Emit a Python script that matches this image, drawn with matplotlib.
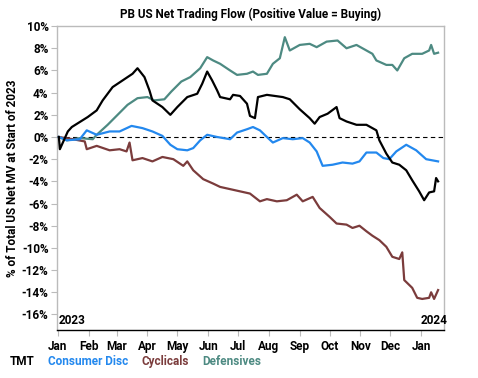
import numpy as np
import pandas as pd
import matplotlib
matplotlib.use("Agg")
import matplotlib.pyplot as plt
import matplotlib.dates as mdates
from matplotlib.ticker import FuncFormatter

plt.rcParams['font.family'] = ['Roboto', 'DejaVu Sans']
plt.rcParams['font.weight'] = 'bold'

# --- data (% of total US net MV at start of 2023) ---
tmt_dates = ["2023-01-02", "2023-01-03", "2023-01-11", "2023-01-15", "2023-01-31", "2023-02-09",
             "2023-02-15", "2023-02-25", "2023-03-07", "2023-03-17", "2023-03-22", "2023-03-29",
             "2023-04-03", "2023-04-06", "2023-04-16", "2023-04-24", "2023-05-01", "2023-05-11",
             "2023-05-21", "2023-05-26", "2023-05-31", "2023-06-05", "2023-06-10", "2023-06-13",
             "2023-06-23", "2023-06-26", "2023-07-03", "2023-07-10", "2023-07-13", "2023-07-18",
             "2023-07-21", "2023-07-30", "2023-08-15", "2023-08-22", "2023-09-01", "2023-09-11",
             "2023-09-16", "2023-09-21", "2023-09-29", "2023-10-08", "2023-10-11", "2023-10-18",
             "2023-10-28", "2023-11-07", "2023-11-13", "2023-11-17", "2023-11-20", "2023-11-27",
             "2023-12-03", "2023-12-10", "2023-12-17", "2023-12-23", "2023-12-30", "2024-01-04",
             "2024-01-09", "2024-01-14", "2024-01-16", "2024-01-18"]
tmt_vals = [0.0, -1.1, 0.5, 0.9, 1.8, 2.4,
            3.3, 4.5, 5.1, 5.7, 6.2, 5.4,
            4.2, 3.3, 2.7, 2.0, 2.7, 3.6,
            3.9, 4.8, 5.9, 5.1, 4.2, 3.6,
            3.4, 3.8, 3.7, 3.0, 1.9, 1.7,
            3.6, 3.8, 3.6, 3.4, 2.5, 1.7,
            1.2, 1.8, 2.1, 2.7, 1.7, 1.4,
            1.1, 1.1, 0.8, 0.6, -0.3, -1.5,
            -2.3, -2.5, -3.0, -3.9, -4.9, -5.7,
            -5.0, -4.9, -3.7, -4.0]

cons_dates = ["2023-01-02", "2023-01-10", "2023-01-23", "2023-01-30", "2023-02-09", "2023-02-22",
              "2023-03-04", "2023-03-16", "2023-03-27", "2023-04-06", "2023-04-16", "2023-04-24",
              "2023-05-01", "2023-05-11", "2023-05-17", "2023-05-24", "2023-05-31", "2023-06-10",
              "2023-06-23", "2023-06-30", "2023-07-10", "2023-07-16", "2023-07-23", "2023-07-30",
              "2023-08-05", "2023-08-15", "2023-08-25", "2023-09-04", "2023-09-11", "2023-09-18",
              "2023-09-24", "2023-10-04", "2023-10-14", "2023-10-24", "2023-10-31", "2023-11-07",
              "2023-11-17", "2023-11-24", "2023-11-30", "2023-12-07", "2023-12-17", "2023-12-27",
              "2024-01-06", "2024-01-12", "2024-01-18"]
cons_vals = [0.0, -0.3, -0.2, 0.6, 0.2, 0.5,
             0.5, 1.0, 0.8, 0.5, 0.1, -0.7,
             -1.1, -1.2, -1.0, -0.3, 0.2, 0.0,
             -0.2, 0.4, 0.7, 0.9, 0.6, 0.0,
             -0.5, -0.1, -0.2, -0.1, -0.5, -1.3,
             -2.6, -2.5, -2.3, -2.4, -2.2, -1.4,
             -1.4, -1.9, -2.0, -1.3, -0.7, -1.2,
             -2.0, -2.1, -2.2]

cyc_dates = ["2023-01-02", "2023-01-16", "2023-01-28", "2023-01-30", "2023-02-09", "2023-02-22",
             "2023-03-04", "2023-03-11", "2023-03-14", "2023-03-17", "2023-03-27", "2023-04-06",
             "2023-04-16", "2023-04-27", "2023-05-07", "2023-05-11", "2023-05-17", "2023-05-27",
             "2023-06-06", "2023-06-13", "2023-06-23", "2023-07-03", "2023-07-13", "2023-07-23",
             "2023-07-30", "2023-08-09", "2023-08-19", "2023-08-29", "2023-09-04", "2023-09-14",
             "2023-09-21", "2023-10-01", "2023-10-08", "2023-10-18", "2023-10-24", "2023-10-31",
             "2023-11-07", "2023-11-13", "2023-11-20", "2023-11-27", "2023-12-03", "2023-12-10",
             "2023-12-13", "2023-12-15", "2023-12-23", "2023-12-28", "2024-01-02", "2024-01-09",
             "2024-01-11", "2024-01-14", "2024-01-18"]
cyc_vals = [0.0, -0.2, -0.4, -1.1, -0.8, -1.2,
            -1.1, -1.3, -0.5, -2.1, -1.9, -2.2,
            -1.8, -2.0, -2.6, -2.2, -3.0, -3.8,
            -4.2, -4.5, -4.7, -4.9, -5.1, -5.8,
            -5.6, -5.8, -5.7, -5.2, -5.8, -5.4,
            -6.4, -7.2, -7.8, -7.9, -8.2, -8.0,
            -8.5, -8.9, -9.3, -9.9, -10.8, -11.0,
            -10.4, -12.9, -13.6, -14.5, -14.6, -14.5,
            -14.0, -14.6, -13.8]

def_dates = ["2023-01-02", "2023-01-10", "2023-01-23", "2023-02-05", "2023-02-09", "2023-02-20",
             "2023-03-02", "2023-03-12", "2023-03-22", "2023-04-01", "2023-04-08", "2023-04-18",
             "2023-04-25", "2023-05-05", "2023-05-14", "2023-05-24", "2023-05-31", "2023-06-06",
             "2023-06-13", "2023-06-23", "2023-06-30", "2023-07-10", "2023-07-16", "2023-07-21",
             "2023-07-30", "2023-08-05", "2023-08-12", "2023-08-17", "2023-08-22", "2023-09-01",
             "2023-09-11", "2023-09-18", "2023-09-28", "2023-10-09", "2023-10-18", "2023-10-28",
             "2023-11-07", "2023-11-13", "2023-11-17", "2023-11-27", "2023-12-03", "2023-12-08",
             "2023-12-15", "2023-12-23", "2024-01-02", "2024-01-09", "2024-01-11", "2024-01-14",
             "2024-01-18"]
def_vals = [0.0, -0.3, -0.1, -0.2, 0.2, 1.1,
            2.0, 2.9, 3.5, 3.6, 3.3, 3.4,
            4.1, 5.0, 5.4, 6.2, 7.2, 6.9,
            6.6, 6.0, 5.6, 5.7, 5.9, 5.6,
            5.7, 6.6, 7.1, 9.0, 7.8, 8.3,
            8.4, 8.1, 8.6, 8.7, 8.0, 8.3,
            7.8, 7.5, 6.9, 6.5, 6.5, 6.0,
            7.1, 7.5, 7.5, 7.8, 8.3, 7.5,
            7.6]

series = [
    ("TMT", tmt_dates, tmt_vals, "#000000"),
    ("Consumer Disc", cons_dates, cons_vals, "#2388ee"),
    ("Cyclicals", cyc_dates, cyc_vals, "#7b3c3c"),
    ("Defensives", def_dates, def_vals, "#4d8a82"),
]

fig = plt.figure(figsize=(4.78, 3.78), dpi=100)
ax = fig.add_axes([0.119, 0.127, 0.81, 0.804])

ax.axhline(0, color="black", lw=0.8, ls=(0, (4, 3)), zorder=1)

# draw order: defensives/cyclicals/consumer under TMT
for name, d, v, c in [series[3], series[2], series[1], series[0]]:
    ax.plot(pd.to_datetime(d), v, color=c, lw=1.6, zorder=3)

ax.set_ylim(-17.4, 10)
ax.set_yticks(np.arange(-16, 11, 2))
ax.yaxis.set_major_formatter(FuncFormatter(lambda y, _: f"{y:.0f}%"))
ax.set_xlim(pd.Timestamp("2022-12-31"), pd.Timestamp("2024-01-24"))
ax.xaxis.set_major_locator(mdates.MonthLocator())
ax.xaxis.set_major_formatter(mdates.DateFormatter("%b"))

for s in ["left", "right", "top"]:
    ax.spines[s].set_color("#bbbbbb")
    ax.spines[s].set_linewidth(1.0)
ax.spines["bottom"].set_color("black")
ax.spines["bottom"].set_linewidth(1.0)
ax.tick_params(axis="y", length=4, color="#bbbbbb", labelsize=8.5, pad=2)
ax.tick_params(axis="x", length=4, color="#bbbbbb", labelsize=8.5, pad=3)

ax.set_ylabel("% of Total US Net MV at Start of 2023", fontsize=8.5, fontweight="bold", labelpad=2)
ax.set_title("PB US Net Trading Flow (Positive Value = Buying)", fontsize=8.5, fontweight="bold", pad=6)

ax.text(0.005, 0.01, "2023", transform=ax.transAxes, fontsize=8.5, fontweight="bold", va="bottom", ha="left")
ax.text(1.01, 0.01, "2024", transform=ax.transAxes, fontsize=8.5, fontweight="bold", va="bottom", ha="right")

# colored text legend below the chart
lx = [0.021, 0.100, 0.295, 0.423]
for (name, d, v, c), x in zip(series, lx):
    fig.text(x, 0.043, name, color=c, fontsize=8.5, fontweight="bold", ha="left", va="center")

fig.savefig("out.png", dpi=100)
